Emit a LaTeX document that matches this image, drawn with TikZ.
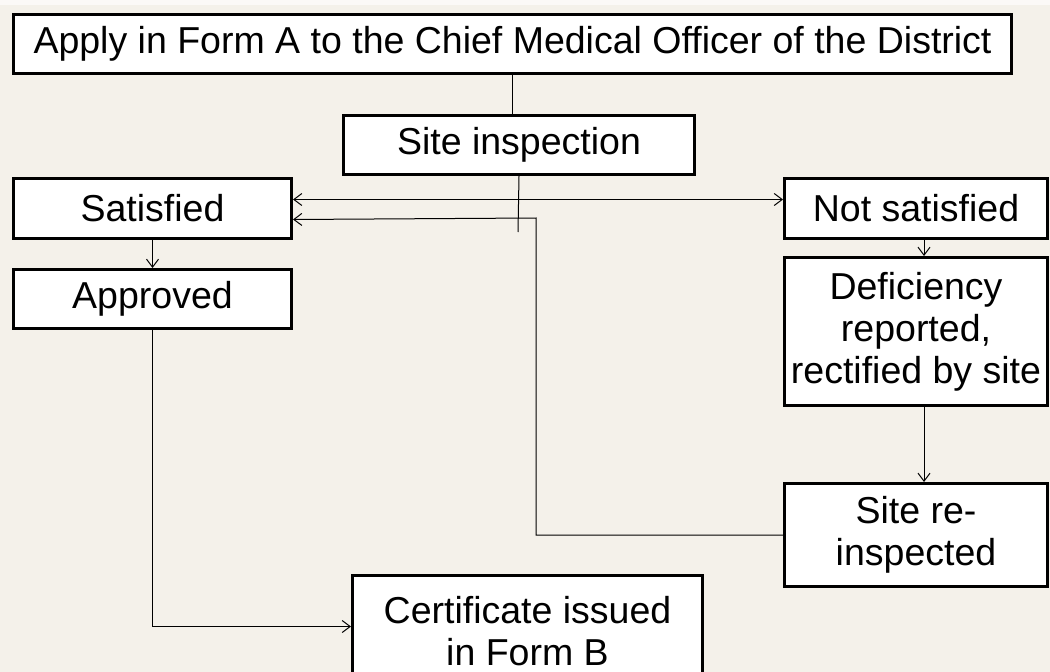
\documentclass[tikz,border=0pt]{standalone}
\usepackage{fontspec}
\setmainfont{Liberation Sans}
\usetikzlibrary{arrows.meta}

\definecolor{paper}{RGB}{244,241,234}
\tikzset{
  box/.style={draw, line width=3bp, fill=white, anchor=north west, align=center,
    inner sep=0pt, font=\fontsize{37.5bp}{42bp}\selectfont},
}

\begin{document}
\begin{tikzpicture}[x=1bp, y=-1bp, >={Straight Barb[length=8bp,width=12bp]}, line width=1bp]
    \clip (0,0) rectangle (1050,672);
    \fill [paper] (0,0) rectangle (1050,672);
    \fill [white!60!paper] (0,0) rectangle (1050,5);

    % Nodes {apply, site, sat, notsat, appr, defic, reinsp, cert}
    \node [box, minimum width=998bp, minimum height=59bp]  (apply)  at (12,13)   {Apply in Form A to the Chief Medical Officer of the District};
    \node [box, minimum width=351bp, minimum height=59bp]  (site)   at (342,114) {Site inspection};
    \node [box, minimum width=278bp, minimum height=60bp]  (sat)    at (12,177)  {Satisfied};
    \node [box, minimum width=263bp, minimum height=60bp]  (notsat) at (783,177) {Not satisfied};
    \node [box, minimum width=278bp, minimum height=59bp]  (appr)   at (12,268)  {Approved};
    \node [box, minimum width=263bp, minimum height=148bp] (defic)  at (783,256) {Deficiency\\reported,\\rectified by site};
    \node [box, minimum width=263bp, minimum height=103bp] (reinsp) at (783,482) {Site re-\\inspected};
    \node [box, minimum width=350bp, minimum height=112bp] (cert)   at (351,574) {Certificate issued\\in Form B};
    \coordinate (stub) at (518,232);
    \coordinate (turn) at (536,218);

    % Paths
    \draw (apply.south) -- (apply.south |- site.north);
    \draw (site.south) -- (stub);
    \draw [<->] ([yshift=9bp]sat.east) -- ([yshift=9bp]notsat.west);
    \draw [->] (reinsp.west) -| (turn) -- ([yshift=-11bp]sat.east);
    \draw [->] (sat.south) -- (appr.north);
    \draw [->] ([xshift=8bp]notsat.south) -- ([xshift=8bp]defic.north);
    \draw [->] ([xshift=8bp]defic.south) -- ([xshift=8bp]reinsp.north);
    \draw [->] (appr.south) |- ([yshift=5bp]cert.west);
\end{tikzpicture}
\end{document}
